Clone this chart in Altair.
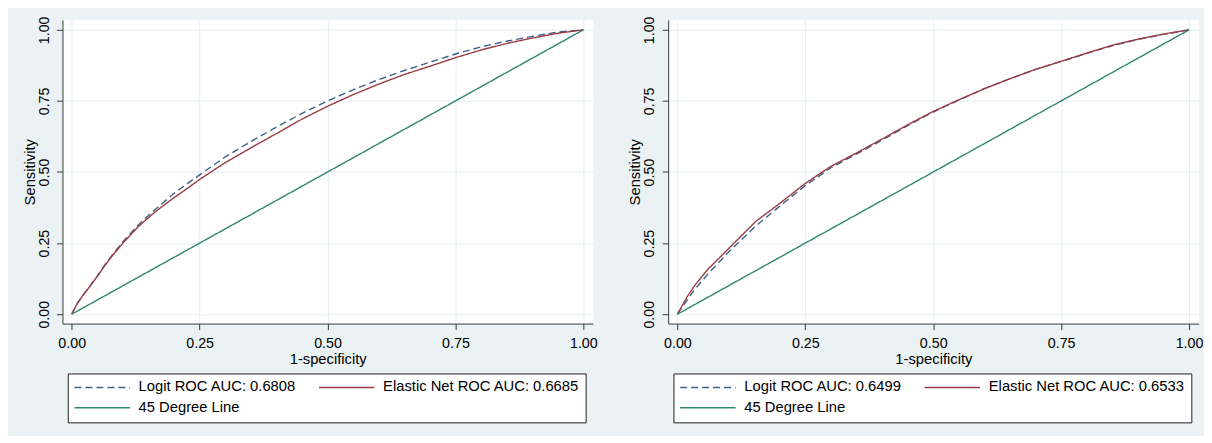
import altair as alt
import pandas as pd

FONT = "Liberation Sans"

# ---- data ----
fpr_left = [0, 0.01, 0.02, 0.033, 0.05, 0.065, 0.08, 0.1, 0.13, 0.163, 0.2, 0.228, 0.25,
            0.3, 0.35, 0.4, 0.45, 0.5, 0.55, 0.6, 0.65, 0.7, 0.75, 0.8, 0.85, 0.9, 0.95, 1]
logit_left = [0, 0.035, 0.062, 0.093, 0.135, 0.174, 0.21, 0.255, 0.314, 0.368, 0.425, 0.462, 0.49,
              0.553, 0.607, 0.658, 0.706, 0.75, 0.789, 0.825, 0.857, 0.886, 0.915, 0.94, 0.96, 0.977, 0.992, 1]
enet_left = [0, 0.035, 0.062, 0.092, 0.133, 0.172, 0.207, 0.25, 0.308, 0.36, 0.41, 0.445, 0.474,
             0.533, 0.585, 0.635, 0.686, 0.731, 0.772, 0.809, 0.843, 0.872, 0.902, 0.929, 0.952, 0.971, 0.988, 1]

fpr_right = [0, 0.02, 0.033, 0.059, 0.098, 0.153, 0.196, 0.25, 0.3, 0.35, 0.4, 0.45, 0.5,
             0.55, 0.6, 0.65, 0.7, 0.75, 0.8, 0.85, 0.9, 0.95, 1]
logit_right = [0, 0.052, 0.085, 0.14, 0.215, 0.31, 0.374, 0.452, 0.515, 0.563, 0.612, 0.663, 0.711,
               0.753, 0.793, 0.828, 0.861, 0.889, 0.917, 0.944, 0.966, 0.984, 1]
enet_right = [0, 0.064, 0.099, 0.157, 0.227, 0.326, 0.384, 0.46, 0.52, 0.567, 0.616, 0.666, 0.713,
              0.754, 0.793, 0.828, 0.861, 0.889, 0.918, 0.946, 0.967, 0.985, 1]

diag_x = [0, 1]
diag_y = [0, 1]

labels_left = ["Logit ROC AUC: 0.6808", "Elastic Net ROC AUC: 0.6685", "45 Degree Line"]
labels_right = ["Logit ROC AUC: 0.6499", "Elastic Net ROC AUC: 0.6533", "45 Degree Line"]

tick_values = [0, 0.25, 0.5, 0.75, 1]

colors = ["#3f5f86", "#9a3d44", "#2f8570"]
dashes = [[7, 4], [1, 0], [1, 0]]


def panel(fpr, logit, enet, labels):
    rows = []
    for i, (x, y) in enumerate(zip(fpr, logit)):
        rows.append({"fpr": x, "tpr": y, "series": labels[0], "idx": i})
    for i, (x, y) in enumerate(zip(fpr, enet)):
        rows.append({"fpr": x, "tpr": y, "series": labels[1], "idx": i})
    for i, (x, y) in enumerate(zip(diag_x, diag_y)):
        rows.append({"fpr": x, "tpr": y, "series": labels[2], "idx": i})
    df = pd.DataFrame(rows)

    legend = alt.Legend(
        title=None, orient="none", legendX=5.3, legendY=354.4, columns=2,
        direction="horizontal", symbolType="stroke", symbolSize=3090, clipHeight=16,
        symbolStrokeWidth=1.4, labelFont=FONT, labelFontSize=14.8, labelColor="black",
        labelOffset=8, columnPadding=22, rowPadding=4.4, padding=6,
        strokeColor="#222222", fillColor="white", labelLimit=400,
    )
    return alt.Chart(df).mark_line(strokeWidth=1.4).encode(
        x=alt.X("fpr:Q",
                scale=alt.Scale(domain=[-0.0181, 1.0187], nice=False, zero=False),
                axis=alt.Axis(values=tick_values, format=".2f", title="1-specificity",
                              labelPadding=7, titlePadding=1, labelFlush=False,
                              labelOverlap=False)),
        y=alt.Y("tpr:Q",
                scale=alt.Scale(domain=[-0.033, 1.0351], nice=False, zero=False),
                axis=alt.Axis(values=tick_values, format=".2f", title="Sensitivity",
                              labelAngle=270, labelAlign="center", labelBaseline="bottom",
                              labelPadding=5.3, titlePadding=0, labelFlush=False,
                              labelOverlap=False)),
        color=alt.Color("series:N", scale=alt.Scale(domain=labels, range=colors), legend=legend),
        strokeDash=alt.StrokeDash("series:N", scale=alt.Scale(domain=labels, range=dashes),
                                  legend=legend),
        order="idx:Q",
    ).properties(width=531.6, height=304.4)


left = panel(fpr_left, logit_left, enet_left, labels_left)
right = panel(fpr_right, logit_right, enet_right, labels_right)

chart = alt.hconcat(left, right, spacing=29).resolve_scale(
    color="independent", strokeDash="independent"
).properties(
    background="#EAF2F3",
    padding={"left": 13.6, "top": 6.4, "right": 0, "bottom": 12},
).configure_view(
    stroke="transparent", fill="white"
).configure_axis(
    domainColor="#3a3a3a", tickColor="#3a3a3a", tickSize=6, domainWidth=1, tickWidth=1,
    gridColor="#E4EEF0", gridWidth=1,
    labelFont=FONT, labelFontSize=14.3, labelColor="black",
    titleFont=FONT, titleFontSize=14.8, titleFontWeight="normal", titleColor="black",
)

chart.save("out.html", embed_options={"renderer": "svg", "actions": False})
